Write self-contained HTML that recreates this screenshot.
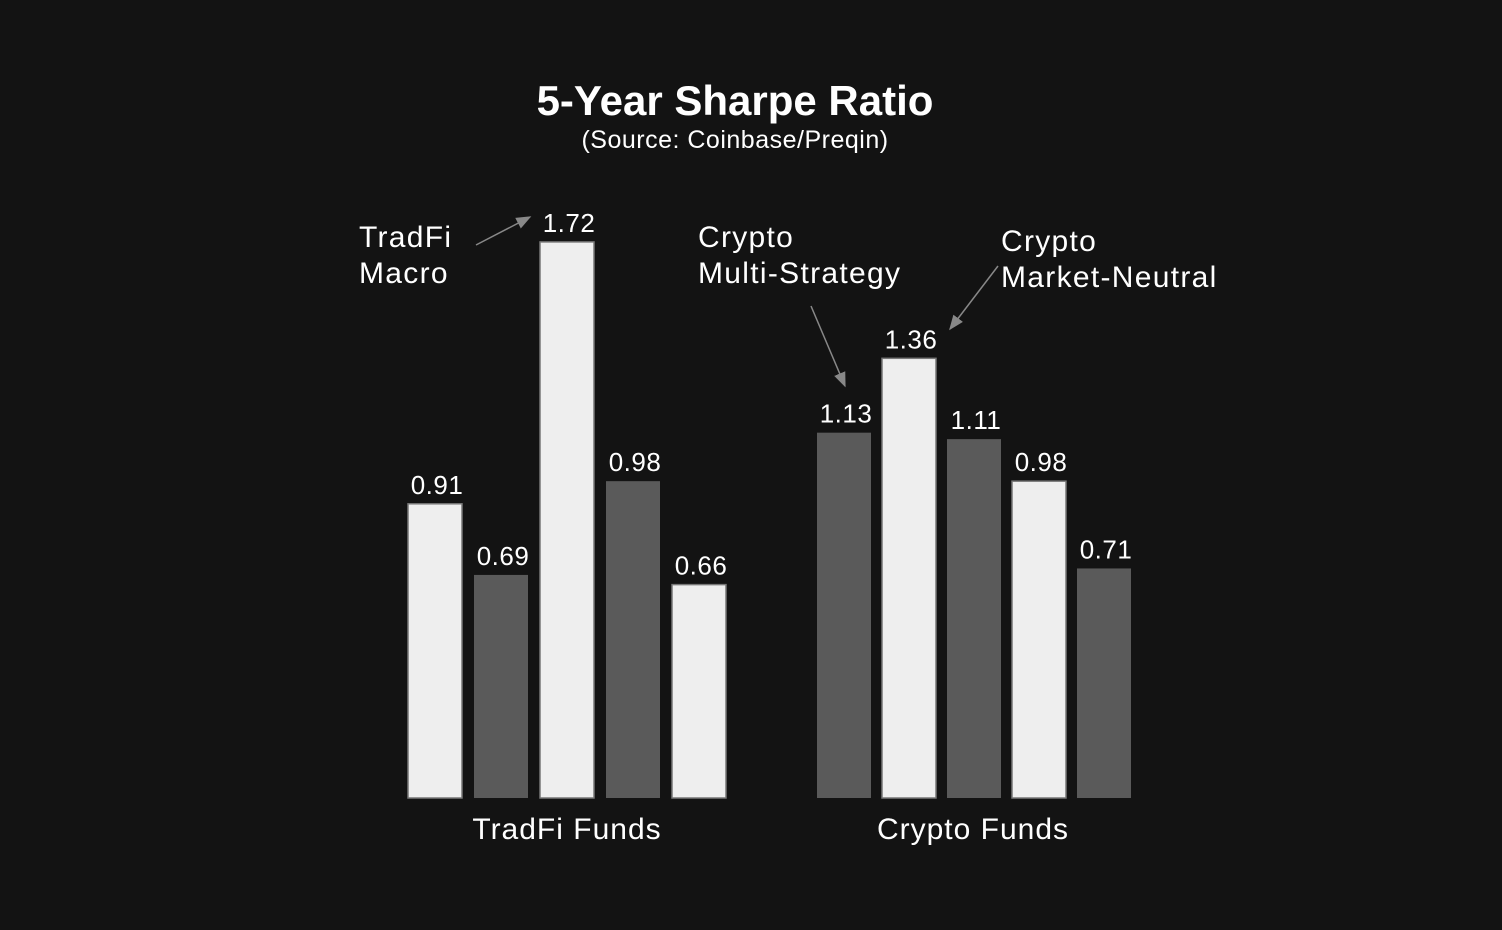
<!DOCTYPE html>
<html><head><meta charset="utf-8"><style>
body{margin:0;background:#131313;}
svg{display:block;font-family:"Liberation Sans",sans-serif;}
</style></head><body>
<svg id="c" width="1502" height="930">
<defs><marker id="ah" markerWidth="10" markerHeight="10" refX="9" refY="5" orient="auto"><path d="M0,1 L10,5 L0,9 z" fill="#888"/></marker></defs>
<text x="735" y="115" text-anchor="middle" fill="#fff" font-size="42" font-weight="bold">5-Year Sharpe Ratio</text>
<text x="735" y="148" text-anchor="middle" fill="#fff" font-size="25" letter-spacing="0.5">(Source: Coinbase/Preqin)</text>
<g id="bars"></g>
<text x="567" y="839" text-anchor="middle" fill="#fff" font-size="30" letter-spacing="1">TradFi Funds</text>
<text x="973" y="839" text-anchor="middle" fill="#fff" font-size="30" letter-spacing="1">Crypto Funds</text>
<g fill="#fff" font-size="30" letter-spacing="1.3">
<text x="359" y="247"><tspan x="359">TradFi</tspan><tspan x="359" dy="36">Macro</tspan></text>
<text x="698" y="247"><tspan x="698">Crypto</tspan><tspan x="698" dy="36">Multi-Strategy</tspan></text>
<text x="1001" y="251"><tspan x="1001">Crypto</tspan><tspan x="1001" dy="36">Market-Neutral</tspan></text>
</g>
<line x1="476" y1="245" x2="530" y2="217" stroke="#888" stroke-width="1.5" marker-end="url(#ah)"/>
<line x1="811" y1="306" x2="845" y2="386" stroke="#888" stroke-width="1.5" marker-end="url(#ah)"/>
<line x1="998" y1="266" x2="950" y2="329" stroke="#888" stroke-width="1.5" marker-end="url(#ah)"/>
</svg>
<script>
const tradfiValues=[0.91,0.69,1.72,0.98,0.66];
const cryptoValues=[1.13,1.36,1.11,0.98,0.71];
const tradfiLabels=["0.91","0.69","1.72","0.98","0.66"];
const cryptoLabels=["1.13","1.36","1.11","0.98","0.71"];
const base=798, k=323.3;
const y=v=>base-v*k;
const g=document.getElementById('bars');
const NS='http://www.w3.org/2000/svg';
function draw(vals,labels,x0,pitch,startLight,name){
  vals.forEach((v,i)=>{
    const x=x0+i*pitch, light=(i%2===0)===startLight;
    const r=document.createElementNS(NS,'rect');
    r.setAttribute('x',x);r.setAttribute('y',y(v));r.setAttribute('width',54);r.setAttribute('height',base-y(v));
    r.setAttribute('fill',light?'#eeeeee':'#5a5a5a');
    if(light){r.setAttribute('stroke','#777');r.setAttribute('stroke-width','1.5');}
    
    
    g.appendChild(r);
    const t=document.createElementNS(NS,'text');
    t.setAttribute('x',x+29);t.setAttribute('y',y(v)-10);t.setAttribute('text-anchor','middle');
    t.setAttribute('fill','#fff');t.setAttribute('font-size','26');t.setAttribute('letter-spacing','0.5');t.textContent=labels[i];
    
    
    g.appendChild(t);
  });
}
draw(tradfiValues,tradfiLabels,408,66,true,'tradfi');
draw(cryptoValues,cryptoLabels,817,65,false,'crypto');
</script>
</body></html>
